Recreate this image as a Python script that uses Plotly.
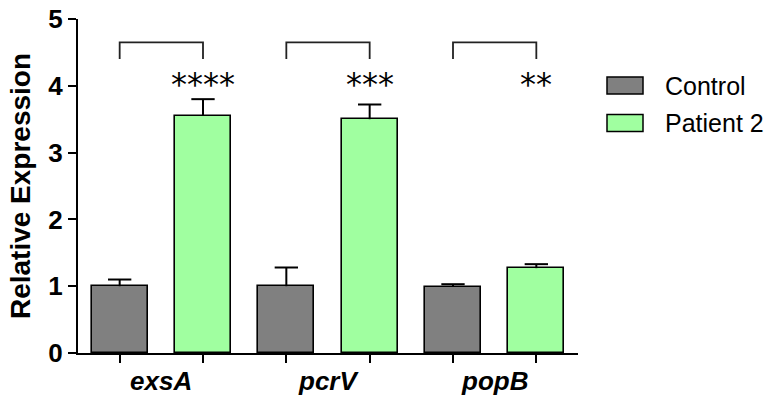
import plotly.graph_objects as go

genes = ["exsA", "pcrV", "popB"]
control_vals = [1.00, 1.00, 0.99]
control_err = [0.10, 0.28, 0.04]
patient_vals = [3.55, 3.50, 1.27]
patient_err = [0.25, 0.22, 0.06]
stars = ["****", "***", "**"]
series_names = ["Control", "Patient 2"]
y_ticks = [0, 1, 2, 3, 4, 5]

CTRL_COLOR = "#808080"
PAT_COLOR = "#a0ffa0"
W, H = 772, 396
L, R, T, B = 78, 194, 19, 43

n = len(genes)
x_ctrl = [2 * i for i in range(n)]
x_pat = [2 * i + 1 for i in range(n)]
cap = 0.14

fig = go.Figure()
for xs, vals, errs in [(x_ctrl, control_vals, control_err),
                       (x_pat, patient_vals, patient_err)]:
    # error whiskers (upper only), drawn behind the bars
    ex, ey = [], []
    for x, v, e in zip(xs, vals, errs):
        ex += [x, x, None, x - cap, x + cap, None]
        ey += [v, v + e, None, v + e, v + e, None]
    fig.add_trace(go.Scatter(x=ex, y=ey, mode="lines", line=dict(color="black", width=2),
                             showlegend=False, hoverinfo="skip", cliponaxis=False))
for xs, vals, name, color in [(x_ctrl, control_vals, series_names[0], CTRL_COLOR),
                              (x_pat, patient_vals, series_names[1], PAT_COLOR)]:
    fig.add_trace(go.Bar(
        x=xs, y=vals, name=name, width=0.67,
        marker=dict(color=color, line=dict(color="black", width=1.6)),
        showlegend=False,
    ))

# significance brackets and stars
br_low, br_high = 4.40, 4.65
for i in range(n):
    x0, x1 = x_ctrl[i], x_pat[i]
    fig.add_shape(type="path",
                  path=f"M {x0} {br_low} L {x0} {br_high} L {x1} {br_high} L {x1} {br_low}",
                  xref="x", yref="y", line=dict(color="#222222", width=1.8))
    fig.add_annotation(x=x1, y=4.02, xref="x", yref="y", text=stars[i],
                       showarrow=False, yanchor="middle",
                       font=dict(family="DejaVu Sans", size=32, color="black"))

pw, ph = W - L - R, H - T - B
def px(xp):
    return (xp - L) / pw
def py(yp):
    return (H - B - yp) / ph

for i in range(n):
    fig.add_annotation(x=(x_ctrl[i] + x_pat[i]) / 2, y=py(381), xref="x", yref="paper",
                       text=f"<b><i>{genes[i]}</i></b>", showarrow=False,
                       yanchor="middle",
                       font=dict(family="Liberation Sans", size=26, color="black"))

# custom legend
leg_colors = [CTRL_COLOR, PAT_COLOR]
for k, name in enumerate(series_names):
    top = 77 + 37.5 * k
    fig.add_shape(type="rect", xref="paper", yref="paper",
                  x0=px(607), x1=px(643), y0=py(top), y1=py(top + 17),
                  fillcolor=leg_colors[k], line=dict(color="black", width=1.5))
    fig.add_annotation(x=px(663), y=py(top + 8.5), xref="paper", yref="paper",
                       text=name, showarrow=False, xanchor="left", yanchor="middle",
                       font=dict(family="Liberation Sans", size=25, color="black"))

fig.update_layout(
    width=W, height=H,
    margin=dict(l=L, r=R, t=T, b=B, autoexpand=False),
    paper_bgcolor="white", plot_bgcolor="white",
    bargap=0, barmode="overlay",
    xaxis=dict(range=[-0.5, 2 * n - 0.5], showgrid=False, zeroline=False,
               showline=True, linecolor="black", linewidth=2, automargin=False,
               tickvals=x_ctrl + x_pat, ticktext=[""] * (2 * n),
               ticks="outside", ticklen=8, tickwidth=2, tickcolor="black"),
    yaxis=dict(range=[0, 5], tickvals=y_ticks, showgrid=False, zeroline=False,
               showline=True, linecolor="black", linewidth=2, automargin=False,
               ticks="outside", ticklen=8, tickwidth=2, tickcolor="black",
               tickfont=dict(family="Liberation Sans", size=26, color="black", weight="bold"),
               title=dict(text="Relative Expression", standoff=10,
                          font=dict(family="Liberation Sans", size=28, color="black", weight="bold"))),
)

fig.write_html("out.html")
